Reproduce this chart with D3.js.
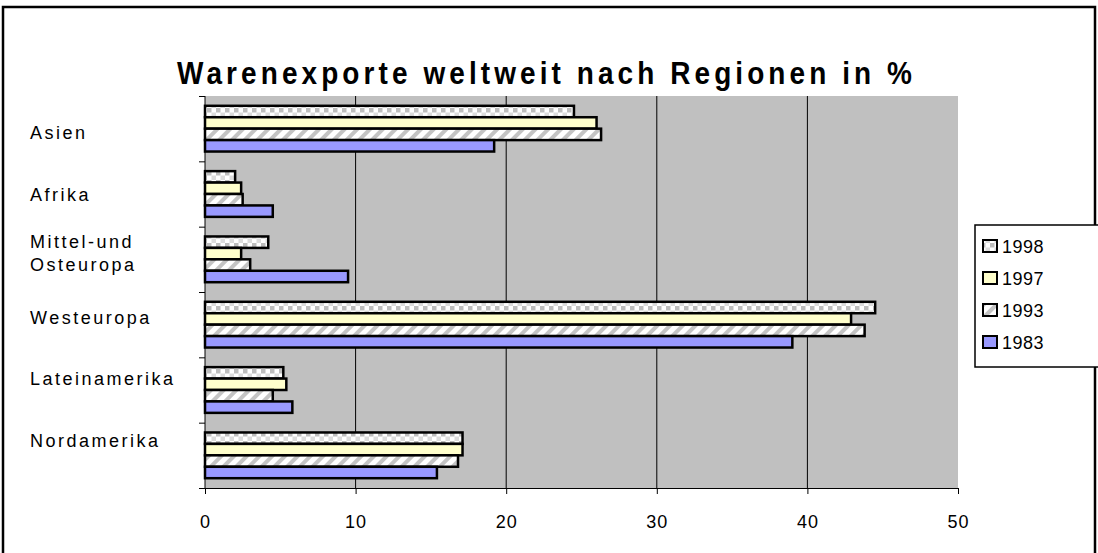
<!DOCTYPE html>
<html><head><meta charset="utf-8">
<script src="https://cdn.jsdelivr.net/npm/d3@7"></script>
<style>body{margin:0;background:#fff}svg{display:block}text{font-family:"Liberation Sans",Arial,sans-serif;fill:#000}</style>
</head><body><div id="c"></div>
<script>
const categories = ["Asien","Afrika","Mittel-und Osteuropa","Westeuropa","Lateinamerika","Nordamerika"];
const seriesNames = ["1998","1997","1993","1983"];
const v1998 = [24.5, 2.0, 4.2, 44.5, 5.2, 17.1];
const v1997 = [26.0, 2.4, 2.4, 42.9, 5.4, 17.1];
const v1993 = [26.3, 2.5, 3.0, 43.8, 4.5, 16.8];
const v1983 = [19.2, 4.5, 9.5, 39.0, 5.8, 15.4];
const xTicks = [0,10,20,30,40,50];
const title = "Warenexporte weltweit nach Regionen in %";

const seriesValues = {"1998":v1998,"1997":v1997,"1993":v1993,"1983":v1983};
const W=1098,H=553;
const svg=d3.select("#c").append("svg").attr("width",W).attr("height",H);
const defs=svg.append("defs");
const pc=defs.append("pattern").attr("id","pChk").attr("patternUnits","userSpaceOnUse").attr("width",9).attr("height",9);
pc.append("rect").attr("width",9).attr("height",9).attr("fill","#ffffff");
pc.append("rect").attr("x",0).attr("y",0).attr("width",4.5).attr("height",4.5).attr("fill","#bdbdbd");
pc.append("rect").attr("x",4.5).attr("y",4.5).attr("width",4.5).attr("height",4.5).attr("fill","#dcdcdc");
const pd=defs.append("pattern").attr("id","pDiag").attr("patternUnits","userSpaceOnUse").attr("width",9).attr("height",9).attr("patternTransform","rotate(45)");
pd.append("rect").attr("width",9).attr("height",9).attr("fill","#ffffff");
pd.append("rect").attr("x",0).attr("y",0).attr("width",4).attr("height",9).attr("fill","#c4c4c4");
const fills={"1998":"url(#pChk)","1997":"#ffffcc","1993":"url(#pDiag)","1983":"#9999ff"};

svg.append("rect").attr("x",3).attr("y",7).attr("width",1092).attr("height",570).attr("fill","#fff").attr("stroke","#000").attr("stroke-width",2.5);

const L=205,R=958,T=96,B=488;
const x=d3.scaleLinear().domain([0,50]).range([L,R]);
const y0=d3.scaleBand().domain(categories).range([T,B]).paddingInner(0.3).paddingOuter(0.15);
const y1=d3.scaleBand().domain(seriesNames).range([0,y0.bandwidth()]);

svg.append("rect").attr("x",L).attr("y",T).attr("width",R-L).attr("height",B-T).attr("fill","#c0c0c0");
svg.append("g").selectAll("line").data(xTicks.filter(d=>d>0&&d<50)).join("line")
 .attr("x1",d=>x(d)).attr("x2",d=>x(d)).attr("y1",T).attr("y2",B).attr("stroke","#000").attr("stroke-width",1);

const g=svg.append("g");
categories.forEach((c,i)=>{
  seriesNames.forEach(s=>{
    g.append("rect").attr("x",x(0)).attr("y",y0(c)+y1(s))
     .attr("width",x(seriesValues[s][i])-x(0)).attr("height",y1.bandwidth())
     .attr("fill",fills[s]).attr("stroke","#000").attr("stroke-width",2.5);
  });
});

const gx=svg.append("g").attr("transform",`translate(0,${B})`)
  .call(d3.axisBottom(x).tickValues(xTicks).tickSize(6).tickPadding(21));
gx.select(".domain").attr("d",`M${L-6},0.5H${R}`).attr("stroke","#000");
gx.selectAll("line").attr("stroke","#000");
gx.selectAll("text").style("font-size","18px").style("letter-spacing","1px").attr("fill","#000");

svg.append("line").attr("x1",L).attr("x2",L).attr("y1",T).attr("y2",B).attr("stroke","#000");
const bounds=categories.map((c,i)=>T+i*y0.step());
bounds.push(B);
svg.append("g").selectAll("line").data(bounds).join("line")
 .attr("x1",L-6).attr("x2",L).attr("y1",d=>d+0.5).attr("y2",d=>d+0.5).attr("stroke","#000");

const labY=d3.scalePoint().domain(categories).range([133,441]);
const lab=svg.append("g");
categories.forEach(c=>{
  const parts=c==="Mittel-und Osteuropa"?["Mittel-und","Osteuropa"]:[c];
  const t=lab.append("text").attr("x",30).style("font-size","18px").style("letter-spacing","2.5px");
  parts.forEach((p,k)=>{
    t.append("tspan").attr("x",30).attr("y",labY(c)+6+(k-(parts.length-1)/2)*23-(parts.length-1)*3).text(p);
  });
});

svg.append("text").attr("transform","translate(177,84) scale(1,1.12)")
 .attr("textLength",735).attr("lengthAdjust","spacing")
 .style("font-size","28px").style("font-weight","bold").text(title);

const lg=svg.append("g");
lg.append("rect").attr("x",975).attr("y",225).attr("width",130).attr("height",142).attr("fill","#fff").attr("stroke","#000").attr("stroke-width",1.5);
const ly=d3.scalePoint().domain(seriesNames).range([246,342]);
seriesNames.forEach(s=>{
  lg.append("rect").attr("x",983).attr("y",ly(s)-6).attr("width",14).attr("height",12).attr("fill",fills[s]).attr("stroke","#000").attr("stroke-width",2);
  lg.append("text").attr("x",1002).attr("y",ly(s)+7).style("font-size","18px").style("letter-spacing","0.5px").text(s);
});
</script></body></html>
